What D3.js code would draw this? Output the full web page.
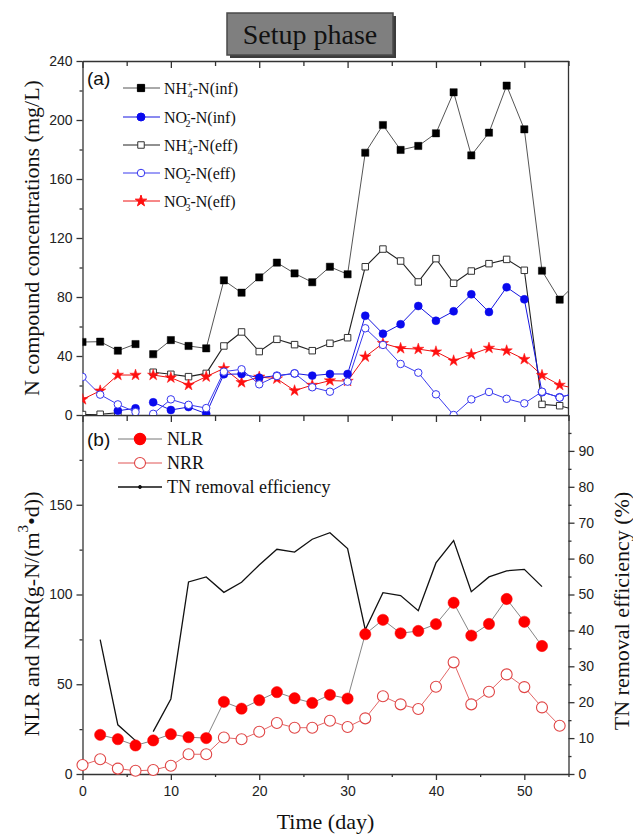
<!DOCTYPE html>
<html><head><meta charset="utf-8">
<script src="https://cdn.jsdelivr.net/npm/d3@7/dist/d3.min.js"></script>
<style>body{margin:0;background:#fff}</style>
</head><body>
<svg id="c" width="633" height="834"></svg>
<script>
// ---------- DATA ----------
const daysA   = [0,2,4,6,8,10,12,14,16,18,20,22,24,26,28,30,32,34,36,38,40,42,44,46,48,50,52,54,56];
const nh4Inf  = [49.5,49.7,43.6,48.1,41.2,50.8,46.8,45.2,91.3,82.9,93.3,103.3,96,90,100.5,95.4,177.8,196.6,179.7,182.4,191,218.8,176,191.4,223.3,193.7,97.8,78.2,90];
const no2Inf  = [null,null,2.9,4.5,8.6,3.4,5.4,0.9,27.6,27.8,25.3,26.7,28.2,26.7,27.8,27.8,67.3,55.1,61.5,73.9,63.9,70.3,81.8,69.8,86.6,78.4,15.5,12,15];
const nh4Eff  = [0.3,0.5,1.5,null,29,27.6,26,28.2,46.8,56.3,43,51.3,47.7,43.6,48.6,52.4,100.5,112.5,104.4,90.2,106,89.3,97.6,102.6,105.5,98.1,7.2,6.3,3];
const no2Eff  = [25.8,13.8,7.2,2,0.8,10.6,6.9,4.7,29.4,31,20.8,26.4,28.2,18.8,15.8,22.6,58.8,47.5,34.6,28.7,14,0,10.6,15.6,11,7.9,15.8,11.8,15.5];
const no3Eff  = [10.6,16.4,27.1,27.1,27.1,25.3,20.3,26,31.6,22.1,25.8,24.6,16.5,20.3,23.3,23,39.5,48.6,45.2,44.7,42.9,36.8,41.1,45.4,43.6,37.8,26.9,20.3,17.7];

const daysB   = [0,2,4,6,8,10,12,14,16,18,20,22,24,26,28,30,32,34,36,38,40,42,44,46,48,50,52,54];
const nlr     = [null,21.8,19.4,15.9,18.7,22.2,20.5,20,40.2,36.4,41.1,45.6,42.2,39.6,44.1,42,77.9,85.9,78.4,79.7,83.5,95.4,77.1,83.6,97.5,84.8,71.3,null];
const nrr     = [5,8.2,3,1.8,2.2,4.6,11,11,20.3,19.4,23.5,28.4,25.8,25.8,29.7,26.2,31,43.3,38.8,36.2,48.6,62.2,38.8,45.8,55.5,48.4,37.1,26.9];
const tnEff   = [null,37.4,13.7,9.3,11.8,20.9,53.5,54.9,50.6,53.4,58.2,62.6,61.8,65.4,67.2,62.8,40.2,50.5,49.7,45.5,58.8,65,50.8,54.9,56.6,57,52.2,null];

const xTickVals   = [0,10,20,30,40,50];
const xMinorVals  = [5,15,25,35,45,55];
const yTicksA     = [0,40,80,120,160,200,240];
const yMinorA     = [20,60,100,140,180,220];
const yTicksB     = [0,50,100,150];
const yMinorB     = [25,75,125,175];
const yTicksR     = [0,10,20,30,40,50,60,70,80,90];
const yMinorR     = [5,15,25,35,45,55,65,75,85,95];
const gapAfterDay = 6;

// ---------- SETUP ----------
const svg = d3.select("#c");
const SERIF = "'Liberation Serif','Times New Roman',serif";
const SANS  = "'Liberation Sans',Arial,sans-serif";
const L = 82.5, R = 568.5, TA = 61, BA = 415, BB = 774;

const x  = d3.scaleLinear().domain([0,55]).range([L,R]);
const ya = d3.scaleLinear().domain([0,240]).range([BA,TA]);
const yb = d3.scaleLinear().domain([0,200]).range([BB,BA]);
const yr = d3.scaleLinear().domain([0,100]).range([BB,BA]);

svg.append("defs").append("clipPath").attr("id","clipA")
  .append("rect").attr("x",L).attr("y",TA-8).attr("width",R-L).attr("height",BA-TA+8);

// ---------- TITLE BOX ----------
svg.append("rect").attr("x",230).attr("y",16).attr("width",166).attr("height",42).attr("fill","#3c3c3c");
svg.append("rect").attr("x",227).attr("y",13).attr("width",166).attr("height",42)
  .attr("fill","#7f7f7f").attr("stroke","#4a4a4a").attr("stroke-width",1.5);
svg.append("text").attr("x",310).attr("y",44).attr("text-anchor","middle")
  .attr("font-family",SERIF).attr("font-size",28).attr("fill","#111").text("Setup phase");

// ---------- AXES ----------
function styleAxis(g){ g.selectAll("path,line").attr("stroke","#333").attr("stroke-width",1.3);
  g.selectAll("text").attr("font-family",SANS).attr("font-size",14).attr("fill","#222"); }

svg.append("g").attr("transform",`translate(${L},0)`)
  .call(d3.axisLeft(ya).tickValues(yTicksA).tickSize(6).tickSizeOuter(0).tickPadding(4)).call(styleAxis);
svg.append("g").attr("transform",`translate(${L},0)`)
  .call(d3.axisLeft(ya).tickValues(yMinorA).tickSize(3).tickFormat("")).call(styleAxis)
  .select(".domain").remove();
svg.append("g").attr("transform",`translate(0,${TA})`)
  .call(d3.axisBottom(x).tickValues(xTickVals).tickSize(7).tickSizeOuter(0).tickFormat("")).call(styleAxis);
svg.append("g").attr("transform",`translate(0,${TA})`)
  .call(d3.axisBottom(x).tickValues(xMinorVals).tickSize(5).tickFormat("")).call(styleAxis)
  .select(".domain").remove();
svg.append("line").attr("x1",R).attr("x2",R).attr("y1",TA).attr("y2",BA).attr("stroke","#333").attr("stroke-width",1.3);
svg.append("g").attr("transform",`translate(0,${BA})`)
  .call(d3.axisBottom(x).tickValues(xTickVals).tickSize(7).tickSizeOuter(0).tickFormat("")).call(styleAxis);
svg.append("g").attr("transform",`translate(0,${BA})`)
  .call(d3.axisBottom(x).tickValues(xMinorVals).tickSize(6).tickFormat("")).call(styleAxis)
  .select(".domain").remove();
svg.append("g").attr("transform",`translate(${L},0)`)
  .call(d3.axisLeft(yb).tickValues(yTicksB).tickSize(6).tickSizeOuter(0).tickPadding(4)).call(styleAxis);
svg.append("g").attr("transform",`translate(${L},0)`)
  .call(d3.axisLeft(yb).tickValues(yMinorB).tickSize(3).tickFormat("")).call(styleAxis)
  .select(".domain").remove();
svg.append("g").attr("transform",`translate(${R},0)`)
  .call(d3.axisRight(yr).tickValues(yTicksR).tickSize(6).tickSizeOuter(0).tickPadding(4)).call(styleAxis);
svg.append("g").attr("transform",`translate(${R},0)`)
  .call(d3.axisRight(yr).tickValues(yMinorR).tickSize(3).tickFormat("")).call(styleAxis)
  .select(".domain").remove();
svg.append("g").attr("transform",`translate(0,${BB})`)
  .call(d3.axisBottom(x).tickValues(xTickVals).tickSize(6).tickSizeOuter(0).tickPadding(6)).call(styleAxis);
svg.append("g").attr("transform",`translate(0,${BB})`)
  .call(d3.axisBottom(x).tickValues(xMinorVals).tickSize(3).tickFormat("")).call(styleAxis)
  .select(".domain").remove();

// ---------- HELPERS ----------
function segments(xs, vs, breakAfter){
  const out=[]; let cur=[];
  xs.forEach((d,i)=>{ const v=vs[i];
    if(v==null){ if(cur.length) out.push(cur); cur=[]; return; }
    if(breakAfter!=null && cur.length && cur[cur.length-1][0]<=breakAfter && d>breakAfter){ out.push(cur); cur=[]; }
    cur.push([d,v]); });
  if(cur.length) out.push(cur);
  return out;
}
function drawLine(g, xs, vs, ys, color, w, breakAfter){
  const line = d3.line().x(d=>x(d[0])).y(d=>ys(d[1]));
  segments(xs, vs, breakAfter).forEach(s=>{
    g.append("path").attr("d",line(s)).attr("fill","none").attr("stroke",color).attr("stroke-width",w);
  });
}
function drawMarks(g, xs, vs, ys, sym, size, fill, stroke, sw){
  const pts = xs.map((d,i)=>[d,vs[i]]).filter(p=>p[1]!=null && p[0]<=55);
  g.selectAll(null).data(pts).enter().append("path")
    .attr("d", d3.symbol().type(sym).size(size))
    .attr("transform", p=>`translate(${x(p[0])},${ys(p[1])})`)
    .attr("fill",fill).attr("stroke",stroke).attr("stroke-width",sw);
}

// ---------- PANEL A ----------
const ga = svg.append("g").attr("clip-path","url(#clipA)");
drawLine(ga, daysA, nh4Inf, ya, "#555", 1, gapAfterDay);
drawLine(ga, daysA, nh4Eff, ya, "#222", 1.1, gapAfterDay);
drawLine(ga, daysA, no3Eff, ya, "#ee1111", 1, gapAfterDay);
drawLine(ga, daysA, no2Inf, ya, "#1515e0", 1, gapAfterDay);
drawLine(ga, daysA, no2Eff, ya, "#3a3aee", 1, gapAfterDay);
drawMarks(ga, daysA, nh4Inf, ya, d3.symbolSquare, 52, "#000", "#000", 0.5);
drawMarks(ga, daysA, nh4Eff, ya, d3.symbolSquare, 42, "#fff", "#333", 1);
drawMarks(ga, daysA, no3Eff, ya, d3.symbolStar, 40, "#ff1010", "#ff1010", 0.5);
drawMarks(ga, daysA, no2Inf, ya, d3.symbolCircle, 50, "#0a0aee", "#0a0aee", 0.5);
drawMarks(ga, daysA, no2Eff, ya, d3.symbolCircle, 44, "#fff", "#3535f0", 1);

// ---------- PANEL B ----------
const gb = svg.append("g");
drawLine(gb, daysB, tnEff, yr, "#111", 1.3, gapAfterDay);
drawLine(gb, daysB, nrr, yb, "#e05555", 0.9, null);
drawLine(gb, daysB, nlr, yb, "#777", 0.9, null);
drawMarks(gb, daysB, nrr, yb, d3.symbolCircle, 95, "#fff", "#e04545", 1.1);
drawMarks(gb, daysB, nlr, yb, d3.symbolCircle, 100, "#ff0000", "#ff0000", 0.5);

// ---------- AXIS TITLES ----------
svg.append("text").attr("transform","translate(31,238) rotate(-90)")
  .attr("text-anchor","middle").attr("dominant-baseline","central")
  .attr("font-family",SERIF).attr("font-size",22).attr("fill","#111")
  .text("N compound concentrations (mg/L)");
const tb = svg.append("text").attr("transform","translate(31,614) rotate(-90)")
  .attr("text-anchor","middle").attr("dominant-baseline","central")
  .attr("font-family",SERIF).attr("font-size",22).attr("fill","#111");
tb.append("tspan").text("NLR and NRR(g-N/(m");
tb.append("tspan").attr("dy",-8).attr("font-size",15).text("3");
tb.append("tspan").attr("dy",8).text("\u2022d))");
svg.append("text").attr("transform","translate(621,611) rotate(-90)")
  .attr("text-anchor","middle").attr("dominant-baseline","central")
  .attr("font-family",SERIF).attr("font-size",22).attr("fill","#111")
  .text("TN removal efficiency (%)");
svg.append("text").attr("x",(L+R)/2).attr("y",829).attr("text-anchor","middle")
  .attr("font-family",SERIF).attr("font-size",22).attr("fill","#111").text("Time (day)");

// ---------- LEGENDS ----------
svg.append("text").attr("x",87).attr("y",78).attr("dominant-baseline","central")
  .attr("font-family",SANS).attr("font-size",19).attr("fill","#111").text("(a)");
svg.append("text").attr("x",87).attr("y",439).attr("dominant-baseline","central")
  .attr("font-family",SANS).attr("font-size",19).attr("fill","#111").text("(b)");

const legA = [
  {base:"NH", sup:"+", sub:"4", rest:"-N(inf)", line:"#555", sym:d3.symbolSquare, size:52, fill:"#000", stroke:"#000"},
  {base:"NO", sup:"-", sub:"2", rest:"-N(inf)", line:"#1515e0", sym:d3.symbolCircle, size:50, fill:"#0a0aee", stroke:"#0a0aee"},
  {base:"NH", sup:"+", sub:"4", rest:"-N(eff)", line:"#222", sym:d3.symbolSquare, size:42, fill:"#fff", stroke:"#333"},
  {base:"NO", sup:"-", sub:"2", rest:"-N(eff)", line:"#3a3aee", sym:d3.symbolCircle, size:44, fill:"#fff", stroke:"#3535f0"},
  {base:"NO", sup:"-", sub:"3", rest:"-N(eff)", line:"#ee1111", sym:d3.symbolStar, size:40, fill:"#ff1010", stroke:"#ff1010"}
];
const legAy = [88,117,145,173,201];
legA.forEach((d,i)=>{
  const y = legAy[i];
  svg.append("line").attr("x1",123).attr("x2",160).attr("y1",y).attr("y2",y).attr("stroke",d.line).attr("stroke-width",1);
  svg.append("path").attr("d",d3.symbol().type(d.sym).size(d.size)()).attr("transform",`translate(141,${y})`)
    .attr("fill",d.fill).attr("stroke",d.stroke).attr("stroke-width",1);
  const t = svg.append("text").attr("x",164).attr("y",y+5.5).attr("font-family",SERIF).attr("font-size",16).attr("fill","#111");
  t.append("tspan").text(d.base);
  t.append("tspan").attr("dy",-6).attr("font-size",10).text(d.sup);
  t.append("tspan").attr("dx",-5).attr("dy",10).attr("font-size",10).text(d.sub);
  t.append("tspan").attr("dy",-4).text(d.rest);
});

const legB = [
  {label:"NLR", line:"#777", r:100, fill:"#ff0000", stroke:"#ff0000"},
  {label:"NRR", line:"#e05555", r:95, fill:"#fff", stroke:"#e04545"},
  {label:"TN removal efficiency", line:"#111", r:6, fill:"#111", stroke:"#111"}
];
const legBy = [439,463,487];
legB.forEach((d,i)=>{
  const y = legBy[i];
  svg.append("line").attr("x1",118).attr("x2",162).attr("y1",y).attr("y2",y).attr("stroke",d.line).attr("stroke-width",i==2?1.3:1);
  svg.append("path").attr("d",d3.symbol().type(d3.symbolCircle).size(d.r)()).attr("transform",`translate(140,${y})`)
    .attr("fill",d.fill).attr("stroke",d.stroke).attr("stroke-width",1.1);
  svg.append("text").attr("x",167).attr("y",y).attr("dominant-baseline","central")
    .attr("font-family",SERIF).attr("font-size",18).attr("fill","#111").text(d.label);
});
</script>
</body></html>
